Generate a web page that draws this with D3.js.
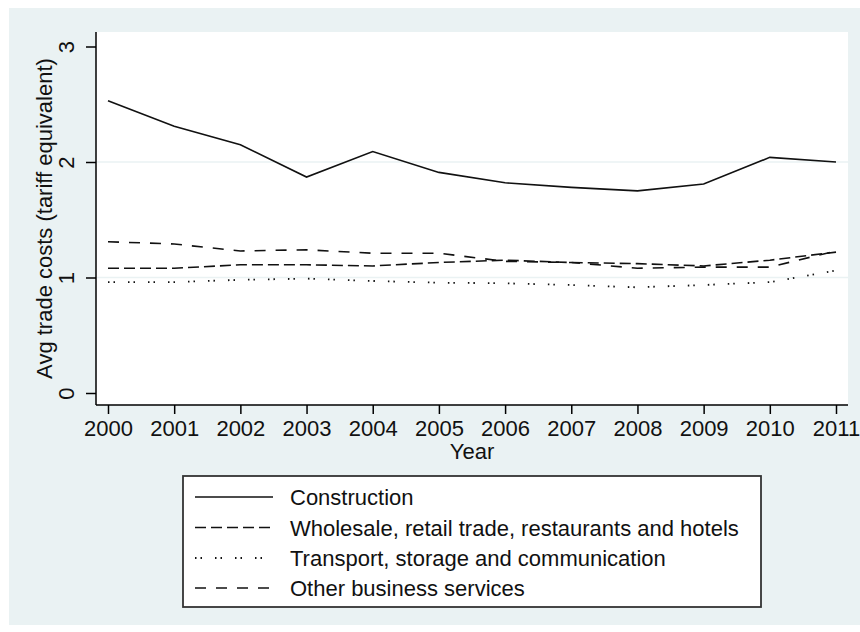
<!DOCTYPE html>
<html>
<head>
<meta charset="utf-8">
<script src="https://cdn.jsdelivr.net/npm/d3@7"></script>
<style>
  body { margin: 0; background: #fff; }
  svg text { font-family: "Liberation Sans", Arial, sans-serif; fill: #111; }
</style>
</head>
<body>
<div id="chart"></div>
<script>
// values
const years = [2000, 2001, 2002, 2003, 2004, 2005, 2006, 2007, 2008, 2009, 2010, 2011];
const construction = [2.53, 2.31, 2.15, 1.87, 2.09, 1.91, 1.82, 1.78, 1.75, 1.81, 2.04, 2.00];
const wholesale = [1.08, 1.08, 1.11, 1.11, 1.10, 1.13, 1.15, 1.13, 1.12, 1.10, 1.15, 1.22];
const transport = [0.96, 0.96, 0.98, 0.99, 0.97, 0.955, 0.95, 0.935, 0.915, 0.935, 0.96, 1.06];
const otherBiz = [1.31, 1.29, 1.23, 1.24, 1.21, 1.21, 1.14, 1.13, 1.08, 1.09, 1.09, 1.23];
const seriesNames = [
  'Construction',
  'Wholesale, retail trade, restaurants and hotels',
  'Transport, storage and communication',
  'Other business services'
];
const yTicks = [0, 1, 2, 3];
const gridTicks = [1, 2];

const width = 860, height = 632;
const plot = { left: 96, right: 848, top: 32, bottom: 405 };

const svg = d3.select('#chart').append('svg')
  .attr('width', width)
  .attr('height', height);

// graph region (stata light blue) + white plot region
svg.append('rect')
  .attr('x', 9).attr('y', 8)
  .attr('width', width - 9).attr('height', 617)
  .attr('fill', '#eaf2f3');
svg.append('rect')
  .attr('x', plot.left).attr('y', plot.top)
  .attr('width', plot.right - plot.left).attr('height', plot.bottom - plot.top)
  .attr('fill', '#fff');

const x = d3.scaleLinear().domain([2000, 2011]).range([108, 836]);
const y = d3.scaleLinear().domain([0, 3]).range([393, 46.5]);

// gridlines
svg.selectAll('.grid')
  .data(gridTicks)
  .enter()
  .append('line')
  .attr('x1', plot.left).attr('x2', plot.right)
  .attr('y1', d => y(d)).attr('y2', d => y(d))
  .attr('stroke', '#eaf2f3')
  .attr('stroke-width', 1.5);

// axes
const xAxis = svg.append('g')
  .attr('transform', `translate(0,${plot.bottom})`)
  .call(d3.axisBottom(x).tickValues(years).tickFormat(d3.format('d')).tickSize(9).tickPadding(6));
xAxis.select('.domain').remove();
xAxis.selectAll('line').attr('stroke', '#000').attr('stroke-width', 1.5);
xAxis.selectAll('text').style('font-size', '22px').attr('fill', '#111');

const yAxis = svg.append('g')
  .attr('transform', `translate(${plot.left},0)`)
  .call(d3.axisLeft(y).tickValues(yTicks).tickFormat(d3.format('d')).tickSize(10));
yAxis.select('.domain').remove();
yAxis.selectAll('line').attr('stroke', '#000').attr('stroke-width', 1.5);
yAxis.selectAll('text')
  .style('font-size', '22px')
  .attr('fill', '#111')
  .attr('transform', 'rotate(-90)')
  .attr('x', 0)
  .attr('y', -22)
  .attr('dy', 0)
  .attr('text-anchor', 'middle');

// axis lines over the full plot region
svg.append('line')
  .attr('x1', plot.left).attr('x2', plot.left)
  .attr('y1', plot.top).attr('y2', plot.bottom)
  .attr('stroke', '#000').attr('stroke-width', 1.5);
svg.append('line')
  .attr('x1', plot.left).attr('x2', plot.right)
  .attr('y1', plot.bottom).attr('y2', plot.bottom)
  .attr('stroke', '#000').attr('stroke-width', 1.5);

// axis titles
svg.append('text')
  .attr('transform', `translate(52,${(plot.top + plot.bottom) / 2}) rotate(-90)`)
  .attr('text-anchor', 'middle')
  .style('font-size', '22px')
  .text('Avg trade costs (tariff equivalent)');
svg.append('text')
  .attr('x', (plot.left + plot.right) / 2)
  .attr('y', 459)
  .attr('text-anchor', 'middle')
  .style('font-size', '22px')
  .text('Year');

// series
const dashes = [null, '11,5', '1.5,4,1.5,13', '11,10'];
const series = [construction, wholesale, transport, otherBiz].map((vals, i) => ({
  name: seriesNames[i],
  dash: dashes[i],
  values: vals.map((v, j) => ({ year: years[j], v }))
}));

const line = d3.line()
  .x(d => x(d.year))
  .y(d => y(d.v));

svg.selectAll('.series')
  .data(series)
  .enter()
  .append('path')
  .attr('d', d => line(d.values))
  .attr('fill', 'none')
  .attr('stroke', '#111')
  .attr('stroke-width', (d, i) => i === 2 ? 1.8 : 1.6)
  .attr('stroke-dasharray', d => d.dash);

// legend, centred under the plot region
const legend = svg.append('g');
legend.append('rect')
  .attr('x', 183).attr('y', 476)
  .attr('width', 578).attr('height', 131)
  .attr('fill', '#fff')
  .attr('stroke', '#333')
  .attr('stroke-width', 1.8);

const rowY = [497, 527.5, 558, 588];
const items = legend.selectAll('.item')
  .data(series)
  .enter()
  .append('g')
  .attr('transform', (d, i) => `translate(0,${rowY[i]})`);

items.append('line')
  .attr('x1', 195).attr('x2', 273)
  .attr('y1', 0).attr('y2', 0)
  .attr('stroke', '#111')
  .attr('stroke-width', (d, i) => i === 2 ? 1.8 : 1.6)
  .attr('stroke-dasharray', d => d.dash);

items.append('text')
  .attr('x', 290)
  .attr('y', 8)
  .style('font-size', '22px')
  .text(d => d.name);
</script>
</body>
</html>
